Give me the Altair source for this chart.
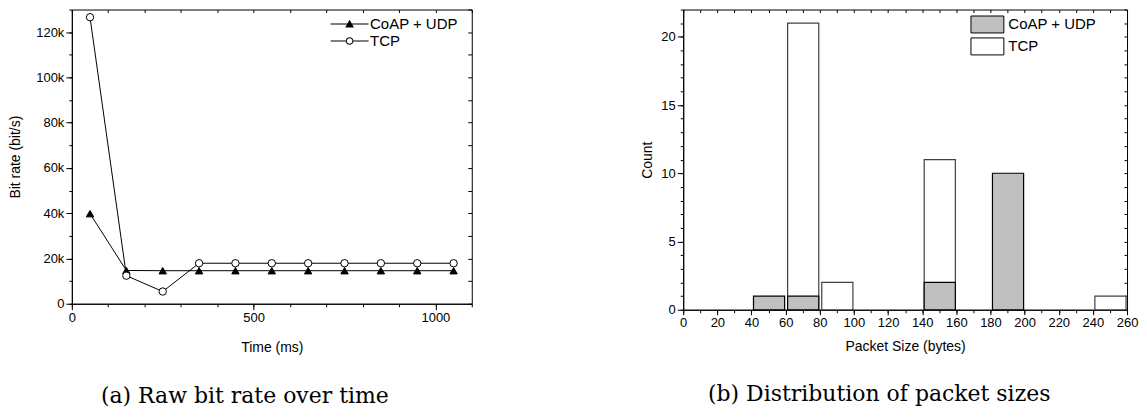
import altair as alt
import pandas as pd

# ---------------- (a) Raw bit rate over time ----------------
series_names = ["CoAP + UDP", "TCP"]
time_ms = [50, 150, 250, 350, 450, 550, 650, 750, 850, 950, 1050]
coap_udp_rate = [39800, 14700, 14600, 14600, 14600, 14600, 14600, 14600, 14600, 14600, 14600]
tcp_rate = [126600, 12400, 5400, 17900, 17900, 17900, 17900, 17900, 17900, 17900, 17900]

# ---------------- (b) Distribution of packet sizes ----------------
coap_bin_start = [40, 60, 140, 180]
coap_bin_end = [60, 80, 160, 200]
coap_count = [1, 1, 2, 10]
tcp_bin_start = [60, 80, 140, 240]
tcp_bin_end = [80, 100, 160, 260]
tcp_count = [21, 2, 11, 1]

# tick positions
x_a_major = [0, 500, 1000]
x_a_minor = list(range(0, 1101, 100))
y_a_major = list(range(0, 120001, 20000))
y_a_minor = list(range(0, 130001, 10000))
x_b_major = list(range(0, 261, 20))
x_b_minor = list(range(0, 261, 10))
y_b_major = [0, 5, 10, 15, 20]
y_b_minor = list(range(0, 23))

SANS = "Liberation Sans"
SERIF = "DejaVu Serif"

AX = dict(labelFont=SANS, labelFontSize=13, labelColor="black",
          titleFont=SANS, titleFontSize=14, titleFontWeight="normal", titleColor="black",
          tickColor="black", domainColor="black", tickWidth=1, domainWidth=1, grid=False)

df_a = pd.DataFrame({
    "time": time_ms + time_ms,
    "rate": coap_udp_rate + tcp_rate,
    "series": [series_names[0]] * len(time_ms) + [series_names[1]] * len(time_ms),
})

xs_a = alt.Scale(domain=[0, 1100], nice=False, zero=False)
ys_a = alt.Scale(domain=[0, 130000], nice=False)

base_a = alt.Chart(df_a)

line_a = base_a.mark_line(color="black", strokeWidth=1).encode(
    x=alt.X("time:Q", scale=xs_a,
            axis=alt.Axis(orient="bottom", values=x_a_major, title="Time (ms)", tickSize=6,
                          labelPadding=2, titlePadding=16, labelFlush=False, format="d", **AX)),
    y=alt.Y("rate:Q", scale=ys_a,
            axis=alt.Axis(orient="left", values=y_a_major, title="Bit rate (bit/s)", tickSize=6,
                          labelPadding=2, titlePadding=13,
                          labelExpr="datum.value == 0 ? '0' : (datum.value / 1000) + 'k'", **AX)),
    detail="series:N",
)

pts_a = base_a.mark_point(filled=True, stroke="black", strokeWidth=1, opacity=1).encode(
    x=alt.X("time:Q", scale=xs_a,
            axis=alt.Axis(orient="bottom", values=x_a_minor, labels=False, title=None,
                          tickSize=3, domain=False, **AX)),
    y=alt.Y("rate:Q", scale=ys_a,
            axis=alt.Axis(orient="left", values=y_a_minor, labels=False, title=None,
                          tickSize=3, domain=False, **AX)),
    shape=alt.Shape("series:N", scale=alt.Scale(domain=series_names, range=["triangle-up", "circle"]),
                    legend=None),
    fill=alt.Fill("series:N", scale=alt.Scale(domain=series_names, range=["black", "white"]),
                  legend=None),
    size=alt.value(55),
)

# legend glyphs: a line with the marker on it, built as filled outlines
tri_path = "M-4.75,-0.13H4.75V0.13H-4.75Z M0,-1.05L1.1,0.85L-1.1,0.85Z"
circ_path = ("M-4.75,-0.13H-0.9V0.13H-4.75Z M0.9,-0.13H4.75V0.13H0.9Z "
             "M0.95,0A0.95,0.95,0,1,1,-0.95,0A0.95,0.95,0,1,1,0.95,0Z "
             "M0.7,0A0.7,0.7,0,1,0,-0.7,0A0.7,0.7,0,1,0,0.7,0Z")
legend_a = alt.Legend(title=None, orient="none", legendX=271, legendY=7, symbolSize=64,
                      labelFont=SANS, labelFontSize=15, labelColor="black", labelOffset=13,
                      rowPadding=1, symbolStrokeWidth=0, symbolFillColor="black", padding=0)

leg_a = base_a.transform_filter("false").mark_point(filled=True, color="black", opacity=1).encode(
    x=alt.X("time:Q", scale=xs_a,
            axis=alt.Axis(orient="top", values=x_a_minor, labels=False, title=None,
                          tickSize=3, domain=False, offset=-3, **AX)),
    y=alt.Y("rate:Q", scale=ys_a,
            axis=alt.Axis(orient="right", values=y_a_minor, labels=False, title=None,
                          tickSize=4, domain=False, offset=-4, **AX)),
    shape=alt.Shape("series:N", scale=alt.Scale(domain=series_names, range=[tri_path, circ_path]),
                    legend=legend_a),
)

chart_a = alt.layer(line_a, pts_a, leg_a).resolve_scale(
    shape="independent", fill="independent"
).resolve_axis(x="independent", y="independent").properties(
    width=401, height=295,
    title=alt.TitleParams(text="(a) Raw bit rate over time", orient="bottom", anchor="middle",
                          frame="group", font=SERIF, fontSize=22, fontWeight="normal",
                          color="black", offset=32, dx=-27),
)

# ---------------- chart (b) ----------------
df_b = pd.DataFrame({
    "start": tcp_bin_start + coap_bin_start,
    "end": tcp_bin_end + coap_bin_end,
    "count": tcp_count + coap_count,
    "series": [series_names[1]] * len(tcp_count) + [series_names[0]] * len(coap_count),
})

xs_b = alt.Scale(domain=[0, 260], nice=False, zero=False)
ys_b = alt.Scale(domain=[0, 22], nice=False)
fill_b = alt.Scale(domain=series_names, range=["#c0c0c0", "white"])
legend_b = alt.Legend(title=None, orient="none", legendX=296, legendY=6,
                      symbolType="M-1.94,-1H1.94V1H-1.94Z", symbolSize=289,
                      labelFont=SANS, labelFontSize=15, labelColor="black", labelOffset=12,
                      rowPadding=0, symbolStrokeWidth=1, symbolStrokeColor="black",
                      symbolOpacity=1, padding=0)

base_b = alt.Chart(df_b)

bars_tcp = base_b.transform_filter(alt.datum.series == series_names[1]).mark_bar(
    stroke="#404040", strokeWidth=1.2, binSpacing=3, opacity=1
).encode(
    x=alt.X("start:Q", bin="binned", scale=xs_b,
            axis=alt.Axis(orient="bottom", values=x_b_major, title="Packet Size (bytes)", tickSize=5,
                          labelPadding=2, titlePadding=10, labelFlush=False, **AX)),
    x2="end:Q",
    y=alt.Y("count:Q", scale=ys_b,
            axis=alt.Axis(orient="left", values=y_b_major, title="Count", tickSize=6,
                          labelPadding=2, titlePadding=6, **AX)),
    fill=alt.Fill("series:N", scale=fill_b, legend=legend_b),
)

bars_coap = base_b.transform_filter(alt.datum.series == series_names[0]).mark_bar(
    stroke="black", strokeWidth=1.2, binSpacing=3, opacity=1
).encode(
    x=alt.X("start:Q", bin="binned", scale=xs_b,
            axis=alt.Axis(orient="bottom", values=x_b_minor, labels=False, title=None,
                          tickSize=3, domain=False, **AX)),
    x2="end:Q",
    y=alt.Y("count:Q", scale=ys_b,
            axis=alt.Axis(orient="left", values=y_b_minor, labels=False, title=None,
                          tickSize=3, domain=False, **AX)),
    fill=alt.Fill("series:N", scale=fill_b, legend=legend_b),
)

frame_b = base_b.mark_bar(opacity=0).encode(
    x=alt.X("start:Q", bin="binned", scale=xs_b,
            axis=alt.Axis(orient="top", values=x_b_minor, labels=False, title=None,
                          tickSize=3, domain=False, offset=-3, **AX)),
    x2="end:Q",
    y=alt.Y("count:Q", scale=ys_b,
            axis=alt.Axis(orient="right", values=y_b_minor, labels=False, title=None,
                          tickSize=3, domain=False, offset=-3, **AX)),
)

chart_b = alt.layer(bars_tcp, bars_coap, frame_b).resolve_axis(
    x="independent", y="independent"
).properties(
    width=445, height=301,
    title=alt.TitleParams(text="(b) Distribution of packet sizes", orient="bottom", anchor="middle",
                          frame="group", font=SERIF, fontSize=22, fontWeight="normal",
                          color="black", offset=31, dx=-26),
)

chart = alt.hconcat(chart_a, chart_b, spacing=168).resolve_scale(
    fill="independent", shape="independent"
).resolve_legend(
    fill="independent", shape="independent"
).properties(
    padding={"left": 0, "top": 0, "right": 0, "bottom": 0},
    background="white",
).configure_view(
    stroke="black", strokeWidth=1
)

chart.save("out.html", embed_options={"renderer": "svg", "actions": False})
